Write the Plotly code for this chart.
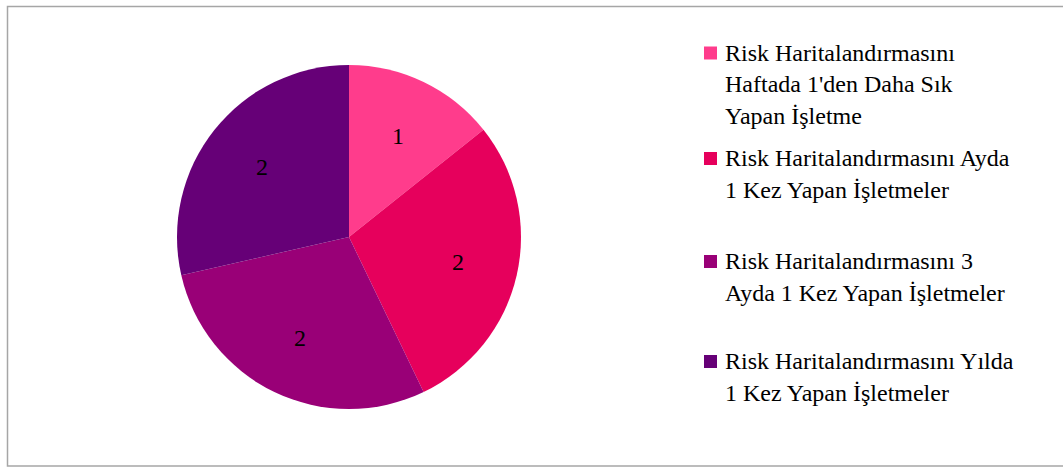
import math
import plotly.graph_objects as go

# Chart data
categories = [
    "Risk Haritalandırmasını\nHaftada 1'den Daha Sık\nYapan İşletme",
    "Risk Haritalandırmasını Ayda\n1 Kez Yapan İşletmeler",
    "Risk Haritalandırmasını 3\nAyda 1 Kez Yapan İşletmeler",
    "Risk Haritalandırmasını Yılda\n1 Kez Yapan İşletmeler",
]
values = [1, 2, 2, 2]
colors = ["#FF3C8C", "#E6005C", "#990077", "#660077"]

W, H = 1063, 468
FONT = "Liberation Serif"
FONT_SIZE = 24

# Pie placement (pixels)
cx, cy, R = 349, 237, 172

fig = go.Figure()
fig.add_trace(go.Pie(
    labels=[c.replace("\n", " ") for c in categories],
    values=values,
    sort=False,
    direction="clockwise",
    rotation=0,
    marker=dict(colors=colors, line=dict(width=0)),
    textinfo="none",
    hoverinfo="label+value",
    showlegend=False,
    domain=dict(x=[(cx - R) / W, (cx + R) / W], y=[(H - cy - R) / H, (H - cy + R) / H]),
))

annotations = []
shapes = []

# Value labels placed at each slice's mid-angle
total = sum(values)
acc = 0
for v in values:
    mid = (acc + v / 2) / total * 2 * math.pi
    acc += v
    r = 0.65 * R
    px = cx + r * math.sin(mid)
    py = cy - r * math.cos(mid)
    annotations.append(dict(
        text=str(v), xref="paper", yref="paper",
        x=px / W, y=1 - py / H, xanchor="center", yanchor="middle",
        showarrow=False, font=dict(family=FONT, size=FONT_SIZE, color="black"),
    ))

# Legend drawn as squares plus wrapped text lines
item_tops = [52.5, 158, 261, 361]
line_gap = 31.5
for cat, col, y0 in zip(categories, colors, item_tops):
    shapes.append(dict(
        type="rect", xref="paper", yref="paper",
        x0=704 / W, x1=717 / W,
        y0=1 - (y0 + 7) / H, y1=1 - (y0 - 6) / H,
        fillcolor=col, line=dict(width=0),
    ))
    for i, line in enumerate(cat.split("\n")):
        annotations.append(dict(
            text=line, xref="paper", yref="paper",
            x=723 / W, y=1 - (y0 + i * line_gap) / H,
            xanchor="left", yanchor="middle", showarrow=False,
            font=dict(family=FONT, size=FONT_SIZE, color="black"),
        ))

# Chart area border
shapes.append(dict(
    type="rect", xref="paper", yref="paper",
    x0=7.5 / W, x1=1066 / W, y0=1 - 466 / H, y1=1 - 6.5 / H,
    line=dict(color="#A6A6A6", width=1.5), fillcolor="rgba(0,0,0,0)",
))

fig.update_layout(
    width=W, height=H,
    margin=dict(l=0, r=0, t=0, b=0),
    paper_bgcolor="white",
    plot_bgcolor="white",
    shapes=shapes,
    annotations=annotations,
)

fig.write_html("out.html")
